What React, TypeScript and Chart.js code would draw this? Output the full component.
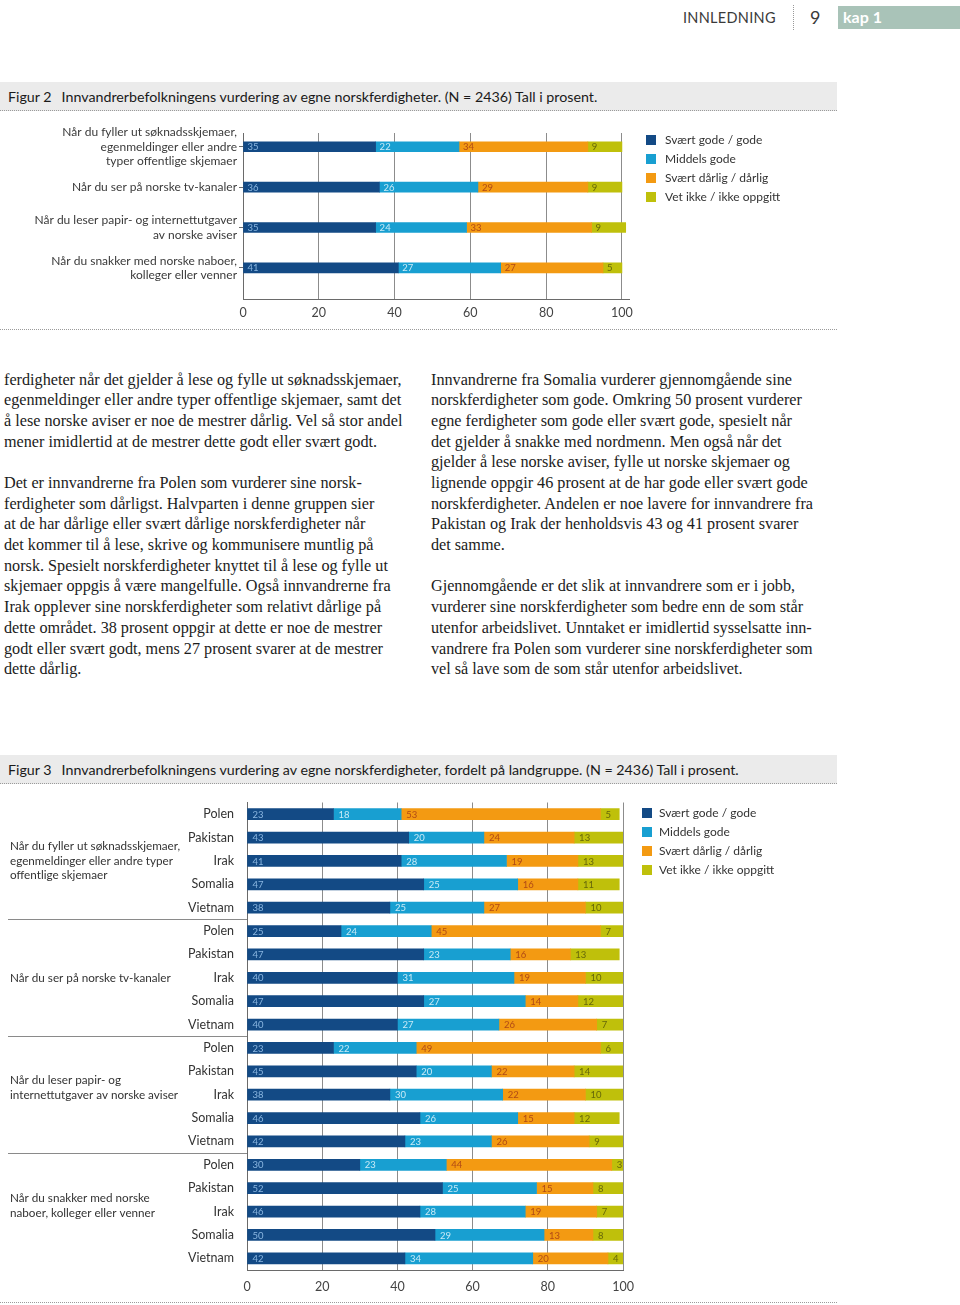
import React, { useEffect, useRef } from "react";
import { Chart, registerables } from "chart.js";

Chart.register(...registerables);
Chart.defaults.font.family = "Lato, 'Open Sans', sans-serif";
Chart.defaults.color = "#3a3a3a";

// ---------- data ----------
const SERIES = ["Svært gode / gode", "Middels gode", "Svært dårlig / dårlig", "Vet ikke / ikke oppgitt"];
const COLORS = ["#134a85", "#189fd1", "#f39a12", "#bfc00b"];
const LABEL_COLORS = ["#8ab6e0", "#c8eaf7", "#b04a16", "#66670a"];

const FIG2_CATEGORIES = [
  ["Når du fyller ut søknadsskjemaer,", "egenmeldinger eller andre", "typer offentlige skjemaer"],
  ["Når du ser på norske tv-kanaler"],
  ["Når du leser papir- og internettutgaver", "av norske aviser"],
  ["Når du snakker med norske naboer,", "kolleger eller venner"],
];
const FIG2_GOOD = [35, 36, 35, 41];
const FIG2_MEDIUM = [22, 26, 24, 27];
const FIG2_POOR = [34, 29, 33, 27];
const FIG2_UNKNOWN = [9, 9, 9, 5];

const FIG3_COUNTRIES = ["Polen", "Pakistan", "Irak", "Somalia", "Vietnam"];
const FIG3_GROUPS = [
  ["Når du fyller ut søknadsskjemaer,", "egenmeldinger eller andre typer", "offentlige skjemaer"],
  ["Når du ser på norske tv-kanaler"],
  ["Når du leser papir- og", "internettutgaver av norske aviser"],
  ["Når du snakker med norske", "naboer, kolleger eller venner"],
];
const FIG3_GOOD = [23, 43, 41, 47, 38, 25, 47, 40, 47, 40, 23, 45, 38, 46, 42, 30, 52, 46, 50, 42];
const FIG3_MEDIUM = [18, 20, 28, 25, 25, 24, 23, 31, 27, 27, 22, 20, 30, 26, 23, 23, 25, 28, 29, 34];
const FIG3_POOR = [53, 24, 19, 16, 27, 45, 16, 19, 14, 26, 49, 22, 22, 15, 26, 44, 15, 19, 13, 20];
const FIG3_UNKNOWN = [5, 13, 13, 11, 10, 7, 13, 10, 12, 7, 6, 14, 10, 12, 9, 3, 8, 7, 8, 4];

const X_TICK_STEP = 20;

const FIG2_TITLE_NO = "Figur 2";
const FIG2_TITLE = "Innvandrerbefolkningens vurdering av egne norskferdigheter. (N = 2436) Tall i prosent.";
const FIG3_TITLE_NO = "Figur 3";
const FIG3_TITLE = "Innvandrerbefolkningens vurdering av egne norskferdigheter, fordelt på landgruppe. (N = 2436) Tall i prosent.";

const LEFT_TEXT = [
  "ferdigheter når det gjelder å lese og fylle ut søknadsskjemaer,",
  "egenmeldinger eller andre typer offentlige skjemaer, samt det",
  "å lese norske aviser er noe de mestrer dårlig. Vel så stor andel",
  "mener imidlertid at de mestrer dette godt eller svært godt.",
  "",
  "Det er innvandrerne fra Polen som vurderer sine norsk-",
  "ferdigheter som dårligst. Halvparten i denne gruppen sier",
  "at de har dårlige eller svært dårlige norskferdigheter når",
  "det kommer til å lese, skrive og kommunisere muntlig på",
  "norsk. Spesielt norskferdigheter knyttet til å lese og fylle ut",
  "skjemaer oppgis å være mangelfulle. Også innvandrerne fra",
  "Irak opplever sine norskferdigheter som relativt dårlige på",
  "dette området. 38 prosent oppgir at dette er noe de mestrer",
  "godt eller svært godt, mens 27 prosent svarer at de mestrer",
  "dette dårlig.",
];
const RIGHT_TEXT = [
  "Innvandrerne fra Somalia vurderer gjennomgående sine",
  "norskferdigheter som gode. Omkring 50 prosent vurderer",
  "egne ferdigheter som gode eller svært gode, spesielt når",
  "det gjelder å snakke med nordmenn. Men også når det",
  "gjelder å lese norske aviser, fylle ut norske skjemaer og",
  "lignende oppgir 46 prosent at de har gode eller svært gode",
  "norskferdigheter. Andelen er noe lavere for innvandrere fra",
  "Pakistan og Irak der henholdsvis 43 og 41 prosent svarer",
  "det samme.",
  "",
  "Gjennomgående er det slik at innvandrere som er i jobb,",
  "vurderer sine norskferdigheter som bedre enn de som står",
  "utenfor arbeidslivet. Unntaket er imidlertid sysselsatte inn-",
  "vandrere fra Polen som vurderer sine norskferdigheter som",
  "vel så lave som de som står utenfor arbeidslivet.",
];

// ---------- plugins ----------
const segmentLabels = {
  id: "segmentLabels",
  afterDatasetsDraw(chart: any, _args: any, opts: any) {
    const ctx = chart.ctx;
    ctx.save();
    ctx.font = `${opts.size}px Lato, sans-serif`;
    ctx.textBaseline = "middle";
    ctx.textAlign = "left";
    chart.data.datasets.forEach((ds: any, di: number) => {
      const meta = chart.getDatasetMeta(di);
      meta.data.forEach((bar: any, i: number) => {
        const raw = ds.data[i];
        const v = typeof raw === "number" ? raw : raw.x;
        const { x, y, base } = bar.getProps(["x", "y", "base"], true);
        ctx.fillStyle = LABEL_COLORS[di];
        ctx.fillText(String(v), Math.min(x, base) + opts.pad, y + 0.5);
      });
    });
    ctx.restore();
  },
};

const groupLabels = {
  id: "groupLabels",
  afterDraw(chart: any, _args: any, opts: any) {
    const ctx = chart.ctx;
    const ys = chart.scales.y;
    const n = opts.groupSize;
    ctx.save();
    ctx.font = `${opts.size}px Lato, sans-serif`;
    ctx.fillStyle = "#333";
    ctx.textAlign = "left";
    ctx.textBaseline = "middle";
    opts.groups.forEach((lines: string[], g: number) => {
      const start = g * n;
      if (g > 0) {
        const yy = Math.round(ys.getPixelForValue(start - 0.5)) + 0.5;
        ctx.strokeStyle = "#8a8a8a";
        ctx.lineWidth = 1;
        ctx.beginPath();
        ctx.moveTo(opts.x - 2, yy);
        ctx.lineTo(ys.right, yy);
        ctx.stroke();
      }
      const cy = ys.getPixelForValue(start + (n - 1) / 2) + (opts.offsets[g] || 0);
      lines.forEach((line, li) => {
        ctx.fillText(line, opts.x, cy + (li - (lines.length - 1) / 2) * opts.lineHeight);
      });
    });
    ctx.restore();
  },
};

// ---------- charts ----------
function Figure2Chart() {
  const ref = useRef<HTMLCanvasElement>(null);
  useEffect(() => {
    const values = [FIG2_GOOD, FIG2_MEDIUM, FIG2_POOR, FIG2_UNKNOWN];
    const chart = new Chart(ref.current as HTMLCanvasElement, {
      type: "bar",
      data: {
        datasets: values.map((vals, si) => ({
          label: SERIES[si],
          data: vals.map((v, i) => ({ x: v, y: i })),
          backgroundColor: COLORS[si],
          borderWidth: 0,
          barThickness: 10,
          stack: "all",
        })),
      },
      options: {
        indexAxis: "y",
        animation: false,
        responsive: false,
        events: [],
        layout: { padding: { top: 18, right: 210.5, bottom: 0, left: 0 } },
        plugins: {
          legend: { display: false },
          tooltip: { enabled: false },
          segmentLabels: { size: 9.5, pad: 4 },
        } as any,
        scales: {
          x: {
            type: "linear",
            stacked: true,
            min: 0,
            max: 102,
            ticks: { stepSize: X_TICK_STEP, includeBounds: false, padding: 6, color: "#444", font: { size: 12.5 } },
            grid: { color: "#8c8c8c", drawTicks: false },
            border: { color: "#6a6a6a" },
            afterFit: (s: any) => { s.height = 31; },
          },
          y: {
            type: "linear",
            reverse: true,
            bounds: "data",
            offset: false,
            min: -0.34,
            max: 3.77,
            afterBuildTicks: (s: any) => { s.ticks = FIG2_CATEGORIES.map((_, i) => ({ value: i })); },
            ticks: {
              autoSkip: false,
              padding: 2,
              color: "#3a3a3a",
              font: { size: 12, lineHeight: 1.2 },
              callback: (v: any) => FIG2_CATEGORIES[Math.round(v)] ?? "",
            },
            grid: { drawOnChartArea: false, offset: false, tickLength: 4, color: "#6a6a6a" },
            border: { color: "#6a6a6a" },
            afterFit: (s: any) => { s.width = 243; },
          },
        } as any,
      },
      plugins: [segmentLabels],
    } as any);
    return () => chart.destroy();
  }, []);
  return <canvas ref={ref} width={840} height={215} style={{ position: "absolute", left: 0, top: 115, width: 840, height: 215 }} />;
}

function Figure3Chart() {
  const ref = useRef<HTMLCanvasElement>(null);
  useEffect(() => {
    const values = [FIG3_GOOD, FIG3_MEDIUM, FIG3_POOR, FIG3_UNKNOWN];
    const labels = FIG3_GROUPS.flatMap(() => FIG3_COUNTRIES);
    const chart = new Chart(ref.current as HTMLCanvasElement, {
      type: "bar",
      data: {
        labels,
        datasets: values.map((vals, si) => ({
          label: SERIES[si],
          data: vals,
          backgroundColor: COLORS[si],
          borderWidth: 0,
          barThickness: 11,
        })),
      },
      options: {
        indexAxis: "y",
        animation: false,
        responsive: false,
        events: [],
        layout: { padding: { top: 10, right: 217, bottom: 0, left: 0 } },
        plugins: {
          legend: { display: false },
          tooltip: { enabled: false },
          segmentLabels: { size: 9.5, pad: 5 },
          groupLabels: { groups: FIG3_GROUPS, groupSize: FIG3_COUNTRIES.length, x: 10, size: 11.7, lineHeight: 14.5, offsets: [0, 0, -7, -6] },
        } as any,
        scales: {
          x: {
            type: "linear",
            stacked: true,
            min: 0,
            max: 100,
            ticks: { stepSize: X_TICK_STEP, padding: 9, color: "#444", font: { size: 12.5 } },
            grid: { color: "#8c8c8c", drawTicks: false },
            border: { color: "#6a6a6a" },
            afterFit: (s: any) => { s.height = 35; },
          },
          y: {
            stacked: true,
            ticks: { autoSkip: false, padding: 5, color: "#333", font: { size: 12.5 } },
            grid: { display: false },
            border: { color: "#6a6a6a" },
            afterFit: (s: any) => { s.width = 247; },
          },
        } as any,
      },
      plugins: [segmentLabels, groupLabels],
    } as any);
    return () => chart.destroy();
  }, []);
  return <canvas ref={ref} width={840} height={515} style={{ position: "absolute", left: 0, top: 790, width: 840, height: 515 }} />;
}

// ---------- page pieces ----------
function Legend({ left, textLeft, top, step }: { left: number; textLeft: number; top: number; step: number }) {
  return (
    <>
      {SERIES.map((s, i) => (
        <React.Fragment key={s}>
          <div style={{ position: "absolute", left, top: top + i * step - 5, width: 10, height: 10, background: COLORS[i] }} />
          <div style={{ position: "absolute", left: textLeft, top: top + i * step - 8, lineHeight: "16px", fontSize: 12, color: "#333", fontFamily: "Lato, sans-serif", whiteSpace: "nowrap" }}>{s}</div>
        </React.Fragment>
      ))}
    </>
  );
}

function TitleBar({ top, no, text }: { top: number; no: string; text: string }) {
  return (
    <div style={{ position: "absolute", left: 0, top, width: 837, height: 28, background: "#ebebeb", borderBottom: "1px dotted #9a9a9a", fontFamily: "Lato, sans-serif", fontSize: 14.25, lineHeight: "29px", color: "#1a1a1a", whiteSpace: "nowrap" }}>
      <span style={{ marginLeft: 8 }}>{no}</span>
      <span style={{ marginLeft: 10 }}>{text}</span>
    </div>
  );
}

function Column({ left, lines }: { left: number; lines: string[] }) {
  return (
    <div style={{ position: "absolute", left, top: 369.6, fontFamily: "'Liberation Serif', 'Times New Roman', serif", fontSize: 16.2, lineHeight: "20.7px", color: "#1c1c1c" }}>
      {lines.map((l, i) => (
        <div key={i} style={{ whiteSpace: "nowrap", height: 20.7 }}>{l}</div>
      ))}
    </div>
  );
}

export default function App() {
  return (
    <div style={{ position: "relative", width: 960, height: 1305, overflow: "hidden", background: "#fff" }}>
      <style>{"body{margin:0}"}</style>
      {/* header */}
      <div style={{ position: "absolute", left: 683, top: 9, fontFamily: "Lato, sans-serif", fontSize: 14.5, lineHeight: "18px", color: "#3a3a3a", letterSpacing: 0.3 }}>INNLEDNING</div>
      <div style={{ position: "absolute", left: 793, top: 5, height: 25, borderLeft: "1px dotted #999" }} />
      <div style={{ position: "absolute", left: 810, top: 6, fontFamily: "Lato, sans-serif", fontSize: 18, lineHeight: "22px", color: "#3a3a3a" }}>9</div>
      <div style={{ position: "absolute", left: 838, top: 6, width: 122, height: 23, background: "#a9c3b8" }}>
        <span style={{ position: "absolute", left: 5, top: 1, fontFamily: "Lato, sans-serif", fontSize: 16, lineHeight: "20px", color: "#fff", fontWeight: 700 }}>kap 1</span>
      </div>

      {/* figure 2 */}
      <TitleBar top={82} no={FIG2_TITLE_NO} text={FIG2_TITLE} />
      <Figure2Chart />
      <Legend left={646} textLeft={665} top={140} step={19} />
      <div style={{ position: "absolute", left: 0, top: 329, width: 837, borderTop: "1px dotted #9a9a9a" }} />

      {/* body text */}
      <Column left={4} lines={LEFT_TEXT} />
      <Column left={431} lines={RIGHT_TEXT} />

      {/* figure 3 */}
      <TitleBar top={755} no={FIG3_TITLE_NO} text={FIG3_TITLE} />
      <Figure3Chart />
      <Legend left={642} textLeft={659} top={813} step={19} />
      <div style={{ position: "absolute", left: 0, top: 1302, width: 837, borderTop: "1px dotted #9a9a9a" }} />
    </div>
  );
}
